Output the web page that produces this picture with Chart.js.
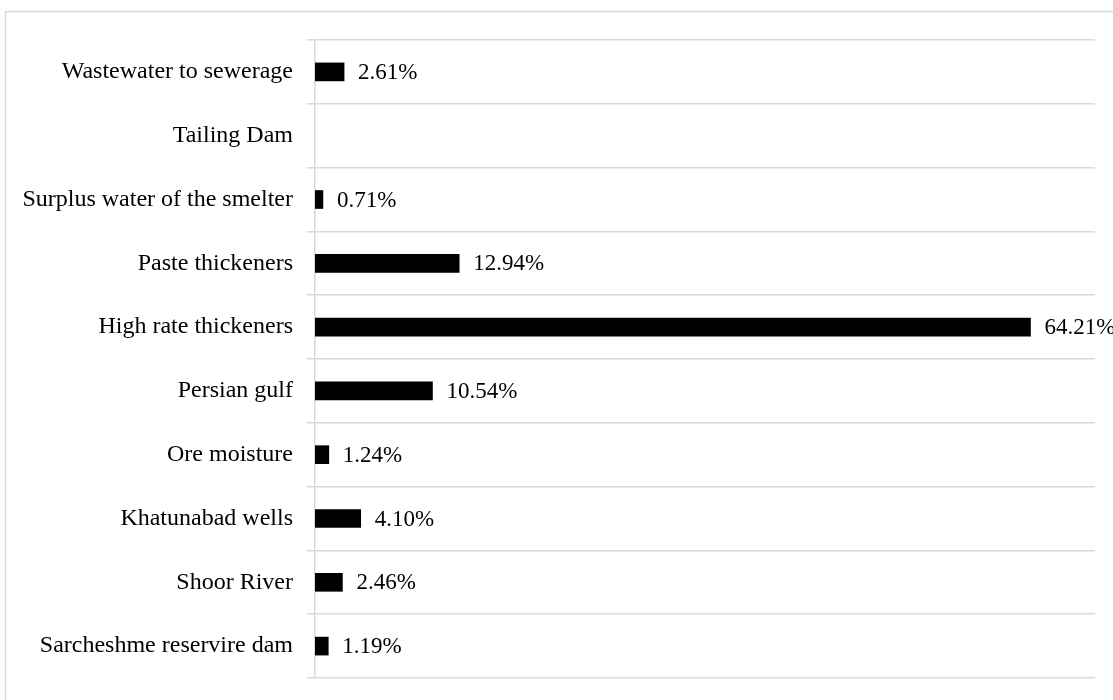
<!DOCTYPE html>
<html>
<head>
<meta charset="utf-8">
<script src="https://cdn.jsdelivr.net/npm/chart.js@4.4.1/dist/chart.umd.min.js"></script>
<style>
  html, body { margin: 0; padding: 0; background: #fff; }
  #wrap { width: 1113px; height: 700px; }
</style>
</head>
<body>
<div id="wrap"><canvas id="water-chart" width="1113" height="700"></canvas></div>
<script>
const categories = [
    'Wastewater to sewerage',
    'Tailing Dam',
    'Surplus water of the smelter',
    'Paste thickeners',
    'High rate thickeners',
    'Persian gulf',
    'Ore moisture',
    'Khatunabad wells',
    'Shoor River',
    'Sarcheshme reservire dam'
];
// share of each source, in percent (Tailing Dam has no value)
const shares = [2.61, null, 0.71, 12.94, 64.21, 10.54, 1.24, 4.10, 2.46, 1.19];
const axisMax = 70;

const gridColor = '#d9d9d9';
const serif = "'Liberation Serif', 'Times New Roman', serif";

// light frame around the whole chart
const framePlugin = {
    id: 'frame',
    beforeDraw(chart) {
        const c = chart.ctx;
        c.save();
        c.fillStyle = '#fff';
        c.fillRect(0, 0, chart.width, chart.height);
        c.strokeStyle = gridColor;
        c.lineWidth = 1.5;
        c.strokeRect(5.5, 11.5, 1300, 900);
        c.restore();
    }
};

// percentage text to the right of every bar
const valueLabels = {
    id: 'valueLabels',
    afterDatasetsDraw(chart) {
        const c = chart.ctx;
        const meta = chart.getDatasetMeta(0);
        c.save();
        c.font = '23px ' + serif;
        c.fillStyle = '#000';
        c.textAlign = 'left';
        c.textBaseline = 'middle';
        meta.data.forEach((bar, i) => {
            const v = shares[i];
            if (v === null) return;
            c.fillText(v.toFixed(2) + '%', bar.x + 14, bar.y + 1);
        });
        c.restore();
    }
};

const ctx = document.getElementById('water-chart');
new Chart(ctx, {
    type: 'bar',
    data: {
        labels: categories,
        datasets: [{
            data: shares,
            backgroundColor: '#000',
            borderWidth: 0,
            barThickness: 18
        }]
    },
    options: {
        indexAxis: 'y',
        responsive: false,
        animation: false,
        layout: {
            padding: { top: 40, right: 18, bottom: 22, left: 0 }
        },
        scales: {
            x: {
                display: false,
                min: 0,
                max: axisMax
            },
            y: {
                afterFit(scale) {
                    // fixed label column; labels sit mid-row so no extra vertical room needed
                    scale.width = 315;
                    scale.paddingTop = 0;
                    scale.paddingBottom = 0;
                },
                grid: {
                    offset: true,
                    color: gridColor,
                    lineWidth: 1.5,
                    tickLength: 8
                },
                border: { display: true, color: gridColor, width: 1.5 },
                ticks: {
                    color: '#000',
                    padding: 14,
                    font: { family: serif, size: 24 }
                }
            }
        },
        plugins: {
            legend: { display: false },
            tooltip: { enabled: false }
        }
    },
    plugins: [framePlugin, valueLabels]
});
</script>
</body>
</html>
